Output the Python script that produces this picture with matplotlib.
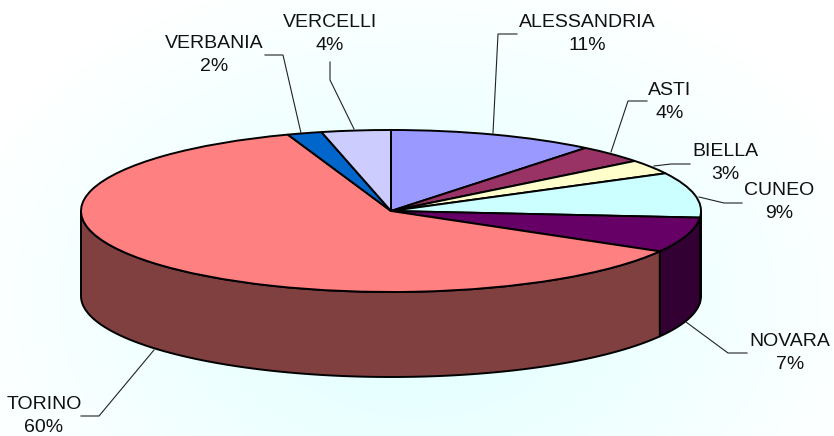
import numpy as np
import matplotlib
matplotlib.use("Agg")
import matplotlib.pyplot as plt

# Data
categories = ["ALESSANDRIA", "ASTI", "BIELLA", "CUNEO", "NOVARA", "TORINO", "VERBANIA", "VERCELLI"]
shares = [10.8, 3.6, 2.9, 9.0, 7.0, 61.3, 1.8, 3.6]   # drawn slice sizes
percent_labels = ["11%", "4%", "3%", "9%", "7%", "60%", "2%", "4%"]

top_colors = ["#9999FF", "#993366", "#FFFFCC", "#CCFFFF", "#660066", "#FF8080", "#0066CC", "#CCCCFF"]
side_colors = ["#4D4D80", "#4D1A33", "#808066", "#668080", "#330033", "#804040", "#003366", "#666680"]

W, H = 834, 436
CX, CY, RX, RY, DEPTH = 391, 211, 310, 81, 85

label_px = [(587, 33), (670, 101), (725, 162), (779, 201), (790, 352), (44, 415), (214, 54), (330, 33)]
leader_px = [
    [(517, 34), (498, 34), (493, 133)],
    [(647, 101), (628, 101), (611, 152)],
    [(690, 164), (671, 164), (654, 166)],
    [(742, 203), (724, 203), (699, 197)],
    [(747, 353), (728, 353), (686, 322)],
    [(81, 416), (99, 416), (154, 350)],
    [(265, 55), (283, 55), (301, 133)],
    [(330, 62), (330, 80), (354, 129)],
]

plt.rcParams["font.family"] = ["Liberation Sans", "DejaVu Sans"]
fig = plt.figure(figsize=(W / 100, H / 100), dpi=100)

# background: rectangular gradient, pale cyan to white
bg = fig.add_axes([0, 0, 1, 1], zorder=0)
yy, xx = np.mgrid[0:H, 0:W]
tx = np.abs(xx - 417) / 417
ty = np.abs(yy - 300) / 300
t = np.clip(np.hypot(tx, ty) / 1.15, 0, 1)
c0 = np.array([0.875, 1.0, 1.0])
c1 = np.array([1.0, 1.0, 1.0])
bg.imshow(c0 + (c1 - c0) * t[..., None], aspect="auto", interpolation="bilinear")
bg.axis("off")

# main axes: one unit is one radius on each axis
ax = fig.add_axes([0, 0, 1, 1], zorder=1)
ax.patch.set_alpha(0)

def X(px):
    return (px - CX) / RX

def Y(py):
    return (CY - py) / RY

depth = DEPTH / RY
edges = np.cumsum([0] + shares) / sum(shares) * 360

# side wall of the front half
for i, color in enumerate(side_colors):
    a0, a1 = max(edges[i], 90), min(edges[i + 1], 270)
    if a1 <= a0:
        continue
    th = np.radians(np.linspace(a0, a1, 200))
    x = np.sin(th)
    y = np.cos(th)
    ax.fill(np.r_[x, x[::-1]], np.r_[y, y[::-1] - depth], facecolor=color,
            edgecolor="black", linewidth=1.4, joinstyle="round", zorder=1)

# top face
ax.pie(shares, colors=top_colors, startangle=90, counterclock=False, radius=1,
       wedgeprops=dict(edgecolor="black", linewidth=1.4, zorder=2))
ax.set_aspect("auto")
ax.set_xlim(X(0), X(W))
ax.set_ylim(Y(H), Y(0))

for name, pct, (lx, ly), pts in zip(categories, percent_labels, label_px, leader_px):
    ax.text(X(lx), Y(ly + 1), f"{name}\n{pct}", ha="center", va="center", fontsize=14,
            color="#111111", linespacing=1.52, zorder=4)
    ax.plot([X(p[0]) for p in pts], [Y(p[1]) for p in pts], color="#222222",
            linewidth=0.8, zorder=3, solid_joinstyle="miter")

fig.savefig("out.png", dpi=100)
